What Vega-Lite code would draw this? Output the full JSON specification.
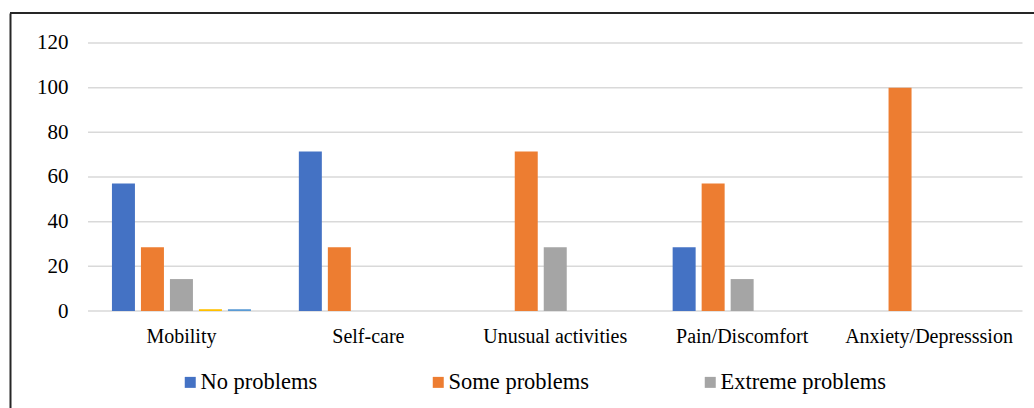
{
  "$schema": "https://vega.github.io/schema/vega-lite/v6.json",
  "width": 1024,
  "height": 395,
  "autosize": {"type": "none"},
  "padding": {"left": 10, "top": 13, "right": 0, "bottom": 0},
  "background": "white",
  "config": {
    "view": {"stroke": null},
    "font": "Liberation Serif",
    "axis": {"labelFont": "Liberation Serif"},
    "legend": {"labelFont": "Liberation Serif"}
  },
  "datasets": {
    "bars": [
      {"category": "Mobility", "series": "No problems", "value": 57.1},
      {"category": "Mobility", "series": "Some problems", "value": 28.6},
      {"category": "Mobility", "series": "Extreme problems", "value": 14.3},
      {"category": "Mobility", "series": "Series4", "value": 0.8},
      {"category": "Mobility", "series": "Series5", "value": 0.8},
      {"category": "Self-care", "series": "No problems", "value": 71.4},
      {"category": "Self-care", "series": "Some problems", "value": 28.6},
      {"category": "Self-care", "series": "Extreme problems", "value": 0},
      {"category": "Self-care", "series": "Series4", "value": 0},
      {"category": "Self-care", "series": "Series5", "value": 0},
      {"category": "Unusual activities", "series": "No problems", "value": 0},
      {"category": "Unusual activities", "series": "Some problems", "value": 71.4},
      {"category": "Unusual activities", "series": "Extreme problems", "value": 28.6},
      {"category": "Unusual activities", "series": "Series4", "value": 0},
      {"category": "Unusual activities", "series": "Series5", "value": 0},
      {"category": "Pain/Discomfort", "series": "No problems", "value": 28.6},
      {"category": "Pain/Discomfort", "series": "Some problems", "value": 57.1},
      {"category": "Pain/Discomfort", "series": "Extreme problems", "value": 14.3},
      {"category": "Pain/Discomfort", "series": "Series4", "value": 0},
      {"category": "Pain/Discomfort", "series": "Series5", "value": 0},
      {"category": "Anxiety/Depresssion", "series": "No problems", "value": 0},
      {"category": "Anxiety/Depresssion", "series": "Some problems", "value": 100},
      {"category": "Anxiety/Depresssion", "series": "Extreme problems", "value": 0},
      {"category": "Anxiety/Depresssion", "series": "Series4", "value": 0},
      {"category": "Anxiety/Depresssion", "series": "Series5", "value": 0}
    ],
    "grid": [
      {"v": 0}, {"v": 20}, {"v": 40}, {"v": 60}, {"v": 80}, {"v": 100}, {"v": 120}
    ],
    "frame": [{"top": 133.43}]
  },
  "layer": [
    {
      "data": {"name": "grid"},
      "mark": {"type": "rule", "color": "#d9d9d9", "strokeWidth": 1.5},
      "encoding": {
        "y": {"field": "v", "type": "quantitative"},
        "x": {"datum": "Mobility", "bandPosition": 0},
        "x2": {"datum": "Anxiety/Depresssion", "bandPosition": 1}
      }
    },
    {
      "data": {"name": "bars"},
      "mark": {"type": "bar"},
      "encoding": {
        "x": {
          "field": "category",
          "type": "nominal",
          "sort": ["Mobility", "Self-care", "Unusual activities", "Pain/Discomfort", "Anxiety/Depresssion"],
          "scale": {
            "domain": ["Mobility", "Self-care", "Unusual activities", "Pain/Discomfort", "Anxiety/Depresssion"],
            "paddingInner": 0,
            "paddingOuter": 0.2394,
            "align": 0.8715
          },
          "axis": {
            "orient": "bottom",
            "offset": -97,
            "title": null,
            "domain": false,
            "ticks": false,
            "tickSize": 0,
            "labelAngle": 0,
            "labelAlign": "center",
            "labelPadding": 31,
            "labelBaseline": "alphabetic",
            "labelFont": "Liberation Serif",
            "labelFontSize": 20,
            "labelColor": "#000000",
            "labelLimit": 300
          }
        },
        "xOffset": {
          "field": "series",
          "type": "nominal",
          "sort": ["No problems", "Some problems", "Extreme problems", "Series4", "Series5"],
          "scale": {
            "domain": ["No problems", "Some problems", "Extreme problems", "Series4", "Series5"],
            "paddingInner": 0.207,
            "paddingOuter": 0.826
          }
        },
        "y": {
          "field": "value",
          "type": "quantitative",
          "stack": null,
          "scale": {"domain": [-43.43, 133.43], "nice": false, "zero": false},
          "axis": {
            "title": null,
            "values": [0, 20, 40, 60, 80, 100, 120],
            "grid": false,
            "domain": true,
            "domainColor": "#262626",
            "domainWidth": 2,
            "ticks": false,
            "tickSize": 0,
            "labelPadding": -58,
            "labelFont": "Liberation Serif",
            "labelFontSize": 21,
            "labelColor": "#000000"
          }
        },
        "color": {
          "field": "series",
          "type": "nominal",
          "scale": {
            "domain": ["No problems", "Some problems", "Extreme problems", "Series4", "Series5"],
            "range": ["#4472C4", "#ED7D31", "#A5A5A5", "#FFC000", "#5B9BD5"]
          },
          "legend": {
            "values": ["No problems", "Some problems", "Extreme problems"],
            "orient": "none",
            "legendX": 169,
            "legendY": 358,
            "direction": "horizontal",
            "columns": 3,
            "columnPadding": 109,
            "title": null,
            "symbolType": "square",
            "symbolSize": 121,
            "symbolStrokeWidth": 0,
            "labelFont": "Liberation Serif",
            "labelFontSize": 22.5,
            "labelOffset": -1,
            "labelColor": "#000000",
            "labelLimit": 400
          }
        }
      }
    },
    {
      "data": {"name": "frame"},
      "mark": {"type": "rule", "color": "#262626", "strokeWidth": 2},
      "encoding": {
        "y": {"field": "top", "type": "quantitative"}
      }
    }
  ]
}
